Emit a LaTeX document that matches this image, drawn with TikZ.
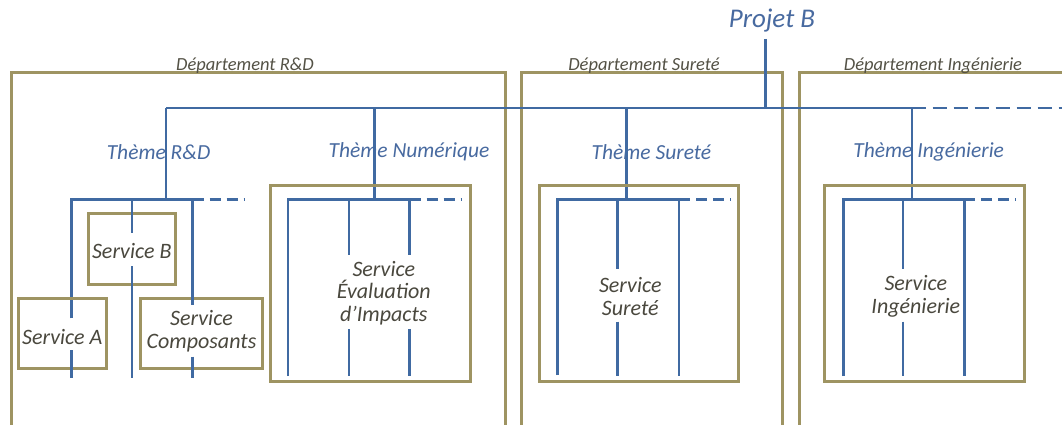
\documentclass[tikz,border=0pt]{standalone}
\usepackage{fontspec}
\setmainfont{Carlito}
\definecolor{lineblue}{RGB}{64,106,162}
\definecolor{boxolive}{RGB}{158,148,98}
\definecolor{themeblue}{RGB}{72,106,160}
\definecolor{svcgray}{RGB}{74,72,62}
\definecolor{deptgray}{RGB}{84,82,70}
\begin{document}
\begin{tikzpicture}[x=1pt,y=-1pt,
  link/.style={draw=lineblue,line width=2.6pt},
  thinlink/.style={draw=lineblue,line width=1.8pt},
  dlink/.style={link,dash pattern=on 11pt off 6pt},
  mdlink/.style={link,dash pattern=on 14pt off 7pt},
  box/.style={draw=boxolive,line width=3pt},
  dept/.style={text=deptgray,font=\itshape\fontsize{18.5}{20}\selectfont,inner sep=0pt},
  theme/.style={text=themeblue,font=\itshape\fontsize{21.5}{23}\selectfont,inner sep=0pt},
  svc/.style={text=svcgray,font=\itshape\fontsize{22}{22.7}\selectfont,align=center,inner sep=0pt},
  proj/.style={text=themeblue,font=\itshape\fontsize{27}{30}\selectfont,inner sep=0pt}]
\useasboundingbox (0,0) rectangle (1062,425);
\clip (0,0) rectangle (1062,425);
\fill[white] (0,0) rectangle (1062,425);

% department boxes
\draw[box] (11,440) -- (11,73) -- (505,73) -- (505,440);
\draw[box] (521.5,440) -- (521.5,73) -- (782.5,73) -- (782.5,440);
\draw[box] (799,440) -- (799,73) -- (1080,73);
\node[dept] (dRD) at (245,66) {Département R\&D};
\node[dept] (dSU) at (644,66) {Département Sureté};
\node[dept] (dIN) at (933,66) {Département Ingénierie};

% project
\node[proj] (pB) at (772,21) {Projet B};
\coordinate (hub) at (765.4,108);
\draw[link] (765.4,39) -- (hub);
\draw[link] (166,108) -- (911.6,108);
\draw[mdlink] (911.6,108) -- (1070,108);

% theme labels
\node[theme] (tRD) at (158.5,152) {Thème R\&D};
\node[theme] (tNU) at (409,152) {Thème Numérique};
\node[theme] (tSU) at (651.4,152) {Thème Sureté};
\node[theme] (tIN) at (928.7,152) {Thème Ingénierie};

% theme verticals
\draw[link] (166,108) -- (166,199.5);
\draw[link] (374.6,108) -- (374.6,199.5);
\draw[link] (626.5,108) -- (626.5,199.5);
\draw[thinlink] (911.6,108) -- (911.6,199.5);

% ---------- R&D services
\draw[link] (71.7,318.3) -- (71.7,199.5) -- (192.7,199.5);
\draw[dlink] (192.7,199.5) -- (244,199.5);
\draw[box] (88,213.5) rectangle (175.8,284.5);
\draw[box] (18.6,298.5) rectangle (106.5,368.5);
\draw[box] (140.3,298.5) rectangle (262,368.5);
\draw[link] (131.8,199.5) -- (131.8,233.3);
\draw[link] (131.8,266) -- (131.8,378);
\draw[link] (71.7,350) -- (71.7,378);
\draw[link] (192.7,199.5) -- (192.7,305);
\draw[link] (192.7,356.7) -- (192.7,378);
\node[svc] (sB) at (131.8,251) {Service B};
\node[svc] (sA) at (62.2,337) {Service A};
\node[svc] (sC) at (201.5,331.5) {Service\\Composants};

% ---------- Numerique
\draw[box] (270.5,185.3) rectangle (470,381.7);
\draw[link] (288,376) -- (288,199.5) -- (409.7,199.5);
\draw[dlink] (409.7,199.5) -- (461.5,199.5);
\draw[link] (349,199.5) -- (349,255);
\draw[link] (349,329.3) -- (349,376);
\draw[link] (409.7,199.5) -- (409.7,255);
\draw[link] (409.7,329.3) -- (409.7,376);
\node[svc] (sE) at (383.8,293) {Service\\Évaluation\\d’Impacts};

% ---------- Surete
\draw[box] (539,185.3) rectangle (738.8,381.7);
\draw[link] (557.3,375) -- (557.3,199.5) -- (679,199.5);
\draw[dlink] (679,199.5) -- (730.9,199.5);
\draw[link] (617.5,199.5) -- (617.5,269.3);
\draw[link] (617.5,321.7) -- (617.5,376);
\draw[link] (679,199.5) -- (679,376);
\node[svc] (sS) at (630.3,296.5) {Service\\Sureté};

% ---------- Ingenierie
\draw[box] (824.9,185.3) rectangle (1024.7,381.7);
\draw[link] (843.2,376) -- (843.2,199.5) -- (964.2,199.5);
\draw[dlink] (964.2,199.5) -- (1016,199.5);
\draw[link] (903,199.5) -- (903,269.3);
\draw[link] (903,321.7) -- (903,376);
\draw[link] (964.2,199.5) -- (964.2,376);
\node[svc] (sI) at (915.8,296.5) {Service\\Ingénierie};
\end{tikzpicture}
\end{document}
